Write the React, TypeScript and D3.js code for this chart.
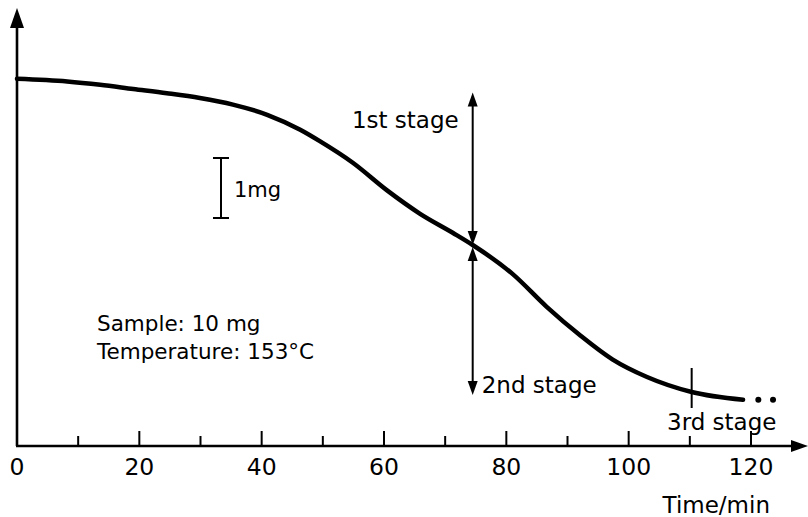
import React from "react";
import * as d3 from "d3";

// Thermogravimetric trace: sample mass (mg) against time (min)
const timeMin = [0, 8.2, 13.6, 19, 24.5, 29.9, 35.3, 40.9, 46.3, 49.5, 54.9, 60.5, 65.9, 71.3, 74.5, 81.1, 86.6, 92, 97.4, 103, 110.3, 118.7];
const massMg = [10.0, 9.955, 9.9, 9.83, 9.76, 9.68, 9.57, 9.4, 9.15, 8.96, 8.6, 8.14, 7.75, 7.43, 7.23, 6.74, 6.2, 5.73, 5.32, 5.03, 4.78, 4.65];

// trailing dots after the trace
const tailTimes = [121.2, 123.6];
const tailMass = 4.65;

const majorTicks = [0, 20, 40, 60, 80, 100, 120];
const minorTicks = [10, 30, 50, 70, 90, 110];

// stage boundaries
const stageTime = 74.5;
const stageTop = 9.77;
const stageMid = 7.23;
const stageBottom = 4.73;
const thirdStageTime = 110.3;

// 1 mg scale bar
const scaleBarTop = 8.68;
const scaleBarMg = 1;

const sampleText = "Sample: 10 mg";
const tempText = "Temperature: 153°C";

const W = 808;
const H = 517;
const FONT = "'DejaVu Sans', sans-serif";

export default function App() {
  const x = d3.scaleLinear().domain([0, 120]).range([17, 751]);
  const y = d3.scaleLinear().domain([3.88, 11.18]).range([446, 8]);
  const x0 = x(0);
  const yAxis = 446;

  const pts: [number, number][] = timeMin.map((t, i) => [t, massMg[i]]);
  const line = d3
    .line<[number, number]>()
    .x((d) => x(d[0]))
    .y((d) => y(d[1]))
    .curve(d3.curveMonotoneX);

  const sx = x(stageTime);
  const tx3 = x(thirdStageTime);

  const arrowUp = (px: number, py: number, w = 5, h = 14) =>
    `M${px},${py} L${px - w},${py + h} L${px + w},${py + h} Z`;
  const arrowDown = (px: number, py: number, w = 5, h = 14) =>
    `M${px},${py} L${px - w},${py - h} L${px + w},${py - h} Z`;

  return (
    <svg
      width={W}
      height={H}
      style={{ position: "absolute", left: 0, top: 0, background: "#fff" }}
      fontFamily={FONT}
    >
      {/* axes */}
      <line x1={x0} y1={yAxis} x2={x0} y2={26} stroke="#000" strokeWidth={2.6} />
      <path d={`M${x0},8 L${x0 - 7},28 L${x0 + 7},28 Z`} fill="#000" />
      <line x1={x0 - 1} y1={yAxis} x2={794} y2={yAxis} stroke="#000" strokeWidth={2.6} />
      <path d={`M808,${yAxis} L791,${yAxis - 6} L791,${yAxis + 6} Z`} fill="#000" />

      {majorTicks.map((t) => (
        <g key={"M" + t}>
          {t !== 0 && (
            <line x1={x(t)} y1={yAxis} x2={x(t)} y2={yAxis - 15} stroke="#000" strokeWidth={2} />
          )}
          <text x={x(t)} y={475} fontSize={23.5} textAnchor="middle" fill="#000">
            {t}
          </text>
        </g>
      ))}
      {minorTicks.map((t) => (
        <line key={"m" + t} x1={x(t)} y1={yAxis} x2={x(t)} y2={yAxis - 10} stroke="#000" strokeWidth={2} />
      ))}
      <text x={770} y={513} fontSize={23} textAnchor="end" fill="#000">
        Time/min
      </text>

      {/* mass trace */}
      <path d={line(pts) || ""} fill="none" stroke="#000" strokeWidth={4.5} strokeLinecap="round" />
      {tailTimes.map((t) => (
        <circle key={t} cx={x(t)} cy={y(tailMass)} r={3} fill="#000" />
      ))}

      {/* 1 mg scale bar */}
      <g stroke="#000" strokeWidth={2}>
        <line x1={221} y1={y(scaleBarTop)} x2={221} y2={y(scaleBarTop - scaleBarMg)} />
        <line x1={213} y1={y(scaleBarTop)} x2={229} y2={y(scaleBarTop)} />
        <line x1={213} y1={y(scaleBarTop - scaleBarMg)} x2={229} y2={y(scaleBarTop - scaleBarMg)} />
      </g>
      <text x={234} y={197} fontSize={21} fill="#000">
        1mg
      </text>

      {/* stage arrows */}
      <line x1={sx} y1={y(stageTop) + 10} x2={sx} y2={y(stageMid) - 10} stroke="#000" strokeWidth={2} />
      <path d={arrowUp(sx, y(stageTop))} fill="#000" />
      <path d={arrowDown(sx, y(stageMid))} fill="#000" />
      <line x1={sx} y1={y(stageMid) + 10} x2={sx} y2={y(stageBottom) - 10} stroke="#000" strokeWidth={2} />
      <path d={arrowUp(sx, y(stageMid) + 2)} fill="#000" />
      <path d={arrowDown(sx, y(stageBottom))} fill="#000" />
      <text x={sx - 14} y={128} fontSize={23} textAnchor="end" fill="#000">
        1st stage
      </text>
      <text x={sx + 9} y={393} fontSize={23} fill="#000">
        2nd stage
      </text>

      <line x1={tx3} y1={368} x2={tx3} y2={408} stroke="#000" strokeWidth={2} />
      <text x={667} y={430} fontSize={23} fill="#000">
        3rd stage
      </text>

      {/* sample conditions */}
      <text x={97} y={331} fontSize={21.5} fill="#000">
        {sampleText}
      </text>
      <text x={97} y={359} fontSize={21.5} fill="#000">
        {tempText}
      </text>
    </svg>
  );
}
